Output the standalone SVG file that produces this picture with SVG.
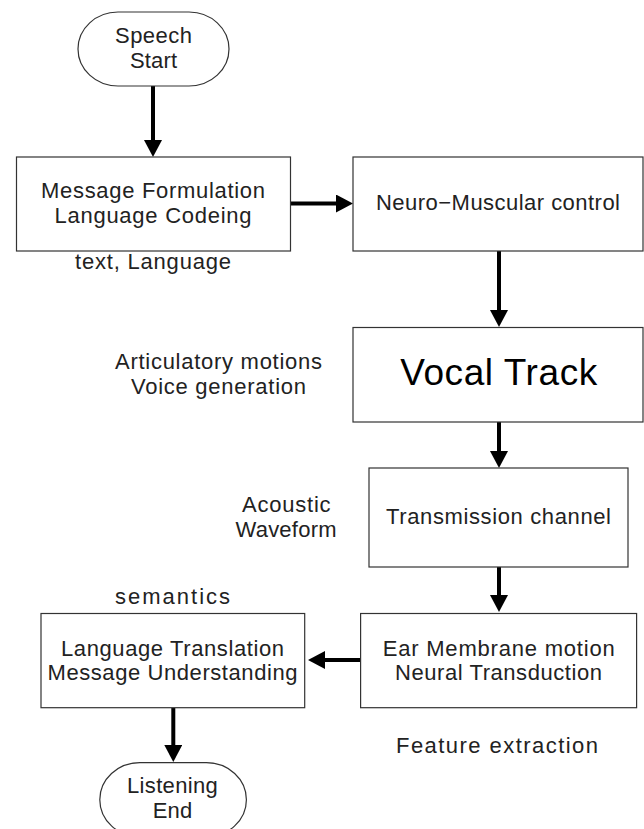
<svg xmlns="http://www.w3.org/2000/svg" width="644" height="829" viewBox="0 0 644 829">
<style>
.box{fill:#fff;stroke:#333;stroke-width:1.2}
.t{font-family:"Liberation Sans",Arial,sans-serif;font-size:22px;fill:#222;text-anchor:middle}
.big{font-size:37px;fill:#000}
.c{stroke:#000;stroke-width:4;fill:none}
</style>
<defs>
<marker id="ah" viewBox="0 0 17 18" refX="1" refY="9" markerWidth="17" markerHeight="18" markerUnits="userSpaceOnUse" orient="auto">
<path d="M0,0 L17,9 L0,18 Z" fill="#000"/>
</marker>
</defs>
<rect width="644" height="829" fill="#fff"/>
<g id="connectors">
<line class="c" x1="153" y1="86" x2="153" y2="141" marker-end="url(#ah)"/>
<line class="c" x1="289" y1="203.5" x2="337" y2="203.5" marker-end="url(#ah)"/>
<line class="c" x1="499" y1="251" x2="499" y2="311" marker-end="url(#ah)"/>
<line class="c" x1="499" y1="422" x2="499" y2="452" marker-end="url(#ah)"/>
<line class="c" x1="499" y1="567" x2="499" y2="596" marker-end="url(#ah)"/>
<line class="c" x1="362" y1="660" x2="324" y2="660" marker-end="url(#ah)"/>
<line class="c" x1="173.3" y1="708" x2="173.3" y2="746" marker-end="url(#ah)"/>
</g>
<g id="speech-start">
<rect class="box" x="78" y="12" width="151" height="74" rx="40" ry="37"/>
<text class="t" x="153.5" y="43" textLength="77">Speech</text>
<text class="t" x="153.5" y="68" textLength="47">Start</text>
</g>
<g id="message-formulation">
<rect class="box" x="16.5" y="157" width="274" height="94"/>
<text class="t" x="153" y="198" textLength="224">Message Formulation</text>
<text class="t" x="153" y="223" textLength="197">Language Codeing</text>
</g>
<g id="label-text-language">
<text class="t" x="153" y="269" textLength="156">text, Language</text>
</g>
<g id="neuro-muscular">
<rect class="box" x="353" y="157" width="290" height="94"/>
<text class="t" x="498" y="210" textLength="244">Neuro−Muscular control</text>
</g>
<g id="label-articulatory">
<text class="t" x="218.5" y="369" textLength="207">Articulatory motions</text>
<text class="t" x="218.5" y="394" textLength="175">Voice generation</text>
</g>
<g id="vocal-track">
<rect class="box" x="353" y="327.5" width="290" height="94.5"/>
<text class="t big" x="498.7" y="385" textLength="197">Vocal Track</text>
</g>
<g id="label-acoustic">
<text class="t" x="286.3" y="512" textLength="88.6">Acoustic</text>
<text class="t" x="286" y="537" textLength="101">Waveform</text>
</g>
<g id="transmission">
<rect class="box" x="369" y="468" width="259" height="99"/>
<text class="t" x="498.5" y="524" textLength="225">Transmission channel</text>
</g>
<g id="label-semantics">
<text class="t" x="172.5" y="604" textLength="115">semantics</text>
</g>
<g id="language-translation">
<rect class="box" x="41" y="613.5" width="263.7" height="94.2"/>
<text class="t" x="172.5" y="656" textLength="223">Language Translation</text>
<text class="t" x="172.5" y="680" textLength="250">Message Understanding</text>
</g>
<g id="ear-membrane">
<rect class="box" x="360.6" y="613.5" width="276" height="94.2"/>
<text class="t" x="498.7" y="656" textLength="232">Ear Membrane motion</text>
<text class="t" x="498.5" y="680" textLength="207">Neural Transduction</text>
</g>
<g id="label-feature">
<text class="t" x="497" y="753" textLength="202">Feature extraction</text>
</g>
<g id="listening-end">
<rect class="box" x="99.8" y="762.7" width="146.6" height="74" rx="40" ry="37"/>
<text class="t" x="172.4" y="793" textLength="90.7">Listening</text>
<text class="t" x="172.5" y="818" textLength="39.4">End</text>
</g>
</svg>
